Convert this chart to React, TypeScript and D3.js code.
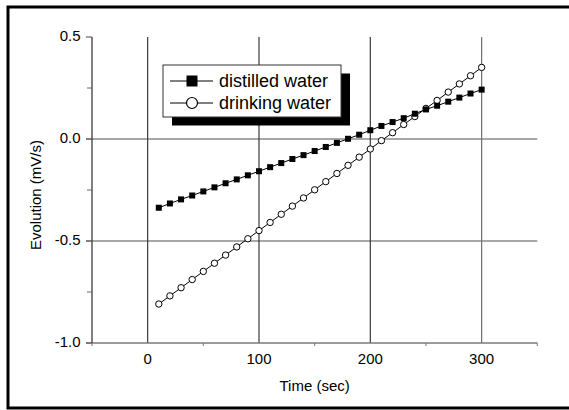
import React from "react";
import * as d3 from "d3";

// Sampling times (sec)
const times = [10, 20, 30, 40, 50, 60, 70, 80, 90, 100, 110, 120, 130, 140, 150,
  160, 170, 180, 190, 200, 210, 220, 230, 240, 250, 260, 270, 280, 290, 300];

// Evolution (mV/s) for each liquid
const distilledWater = [-0.337, -0.316, -0.296, -0.277, -0.257, -0.237, -0.217, -0.198, -0.178, -0.158,
  -0.138, -0.118, -0.098, -0.079, -0.059, -0.039, -0.019, 0.001, 0.021, 0.043,
  0.064, 0.083, 0.102, 0.124, 0.145, 0.163, 0.183, 0.203, 0.223, 0.242];
const drinkingWater = [-0.809, -0.769, -0.729, -0.689, -0.649, -0.609, -0.569, -0.529, -0.489, -0.449,
  -0.409, -0.369, -0.329, -0.289, -0.249, -0.209, -0.169, -0.129, -0.089, -0.049,
  -0.008, 0.031, 0.071, 0.110, 0.150, 0.189, 0.230, 0.270, 0.310, 0.351];

const seriesNames = ["distilled water", "drinking water"];
const xMajorTicks = [0, 100, 200, 300];
const xMinorTicks = [-50, 50, 150, 250, 350];
const yMajorTicks = [0.5, 0.0, -0.5, -1.0];
const yMinorTicks = [0.25, -0.25, -0.75];

const W = 569;
const H = 410;
const FONT = "'Liberation Sans', Arial, Helvetica, sans-serif";

export default function App() {
  const x = d3.scaleLinear().domain([-50, 350]).range([92, 537.3]);
  const y = d3.scaleLinear().domain([-1, 0.5]).range([343, 37]);

  const line = d3
    .line<[number, number]>()
    .x((d) => x(d[0]))
    .y((d) => y(d[1]));

  const distPts: [number, number][] = times.map((t, i) => [t, distilledWater[i]]);
  const drinkPts: [number, number][] = times.map((t, i) => [t, drinkingWater[i]]);

  const [x0, x1] = x.range();
  const yTop = y(0.5);
  const yBot = y(-1);

  // legend geometry
  const lgX = 163, lgY = 65, lgW = 178, lgH = 52;
  const rows = [81, 103];

  return (
    <div style={{ position: "fixed", left: 0, top: 0 }}>
      <svg width={W} height={H} style={{ display: "block", background: "#fff" }}>
        {/* outer frame */}
        <rect x={8} y={7} width={575} height={401} fill="none" stroke="#000" strokeWidth={3} />

        {/* horizontal grid lines */}
        {[0, -0.5].map((v) => (
          <line key={"hg" + v} x1={x0 - 6} x2={x1} y1={y(v)} y2={y(v)} stroke="#8a8a8a" strokeWidth={1.3} />
        ))}

        {/* vertical grid lines */}
        {xMajorTicks.map((v) => (
          <line key={"vg" + v} x1={x(v)} x2={x(v)} y1={yTop} y2={yBot} stroke={v === 300 ? "#6e6e6e" : "#3a3a3a"} strokeWidth={1.2} />
        ))}

        {/* x axis */}
        <line x1={x0 - 6} x2={x1} y1={yBot} y2={yBot} stroke="#7a7a7a" strokeWidth={1.3} />
        {xMinorTicks.map((v) => (
          <line key={"xm" + v} x1={x(v)} x2={x(v)} y1={yBot} y2={yBot + 3} stroke="#7a7a7a" strokeWidth={1} />
        ))}
        {xMajorTicks.map((v) => (
          <text key={"xl" + v} x={x(v)} y={yBot + 21} textAnchor="middle" fontFamily={FONT} fontSize={15} fill="#000">
            {String(v)}
          </text>
        ))}
        <text x={(x0 + x1) / 2} y={391} textAnchor="middle" fontFamily={FONT} fontSize={15} fill="#000">
          Time (sec)
        </text>

        {/* y axis */}
        <line x1={x0} x2={x0} y1={yTop} y2={yBot} stroke="#2a2a2a" strokeWidth={1.2} />
        {yMajorTicks.map((v) => (
          <line key={"yt" + v} x1={x0 - 6} x2={x0} y1={y(v)} y2={y(v)} stroke="#666" strokeWidth={1.2} />
        ))}
        {yMinorTicks.map((v) => (
          <line key={"ym" + v} x1={x0 - 5} x2={x0} y1={y(v)} y2={y(v)} stroke="#666" strokeWidth={1} />
        ))}
        {yMajorTicks.map((v) => (
          <text key={"yl" + v} x={80.5} y={y(v) + 4} textAnchor="end" fontFamily={FONT} fontSize={15} fill="#000">
            {v.toFixed(1)}
          </text>
        ))}
        <text
          transform={`translate(41,${(yTop + yBot) / 2 + 5}) rotate(-90)`}
          textAnchor="middle"
          fontFamily={FONT}
          fontSize={15}
          fill="#000"
        >
          Evolution (mV/s)
        </text>

        {/* series lines */}
        <path d={line(distPts) || ""} fill="none" stroke="#000" strokeWidth={1} />
        <path d={line(drinkPts) || ""} fill="none" stroke="#000" strokeWidth={1} />

        {/* markers */}
        {drinkPts.map((d, i) => (
          <circle key={"c" + i} cx={x(d[0])} cy={y(d[1])} r={3.2} fill="#fff" stroke="#000" strokeWidth={1} />
        ))}
        {distPts.map((d, i) => (
          <rect key={"s" + i} x={x(d[0]) - 3} y={y(d[1]) - 3} width={6} height={6} fill="#000" />
        ))}

        {/* legend */}
        <rect x={lgX + 9} y={lgY + 8.5} width={lgW} height={lgH} fill="#000" />
        <rect x={lgX} y={lgY} width={lgW} height={lgH} fill="#fff" stroke="#333" strokeWidth={1} />
        {seriesNames.map((name, i) => (
          <g key={name}>
            <line x1={170} x2={213} y1={rows[i]} y2={rows[i]} stroke="#000" strokeWidth={1} />
            {i === 0 ? (
              <rect x={186.5} y={rows[i] - 5.5} width={11} height={11} fill="#000" />
            ) : (
              <circle cx={192} cy={rows[i]} r={5.5} fill="#fff" stroke="#000" strokeWidth={1.2} />
            )}
            <text x={219} y={rows[i] + 6} fontFamily={FONT} fontSize={18} fill="#000">
              {name}
            </text>
          </g>
        ))}
      </svg>
    </div>
  );
}
